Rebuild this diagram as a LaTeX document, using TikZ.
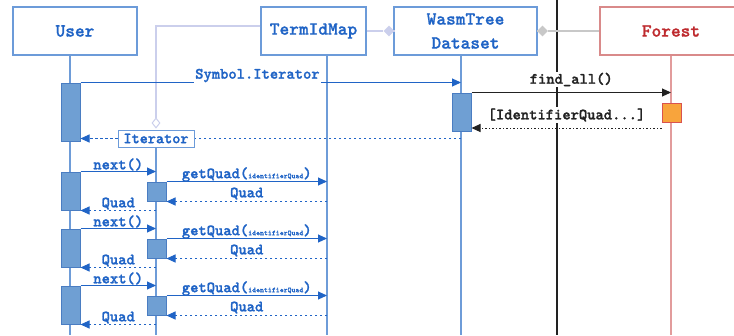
\documentclass[tikz,border=0pt]{standalone}
\usepackage{fontspec}
\newfontfamily\labfont{lmmonolt10-bold}[Extension=.otf, FakeBold=1.3]
\newfontfamily\titfont{lmmonolt10-bold}[Extension=.otf, FakeBold=1.0]
\usetikzlibrary{arrows.meta,shapes.geometric}
\definecolor{ublue}{HTML}{2064C6}
\definecolor{bborder}{HTML}{6C9BD9}
\definecolor{lifeb}{HTML}{6E9CD8}
\definecolor{actfill}{HTML}{6F9FD3}
\definecolor{actdraw}{HTML}{4A7DC2}
\definecolor{lav}{HTML}{CBCFEC}
\definecolor{greyc}{HTML}{C8C8C8}
\definecolor{fred}{HTML}{BE2A2E}
\definecolor{fborder}{HTML}{D98A8A}
\definecolor{flife}{HTML}{E29C9C}
\definecolor{orng}{HTML}{F8A43C}
\definecolor{ordraw}{HTML}{D9534F}
\definecolor{blk}{HTML}{222222}
\tikzset{
  actor/.style={draw=bborder, line width=1.1pt, fill=white, minimum height=48pt, inner sep=0pt,
    font=\titfont\fontsize{18.5}{24}\selectfont, text=ublue, align=center},
  forestbox/.style={draw=fborder, text=fred},
  actbox/.style={draw=actdraw, fill=actfill, line width=1pt, minimum width=19pt, inner sep=0pt},
  factbox/.style={draw=ordraw, fill=orng, line width=1pt, minimum width=19pt, minimum height=19pt, inner sep=0pt},
  lifeline/.style={draw=lifeb, line width=1.2pt},
  msg/.style={draw=ublue, line width=1pt, -{Triangle[length=9pt,width=8pt,fill=ublue]}},
  retmsg/.style={msg, dash pattern=on 2.5pt off 2.5pt},
  bmsg/.style={draw=blk, line width=1pt, -{Triangle[length=9pt,width=8pt,fill=blk]}},
  bret/.style={bmsg, dash pattern=on 1.5pt off 2pt},
  lbl/.style={font=\labfont\fontsize{15.8}{18}\selectfont, text=ublue, inner sep=1pt, yshift=7pt},
  blbl/.style={lbl, text=blk, fill=white, yshift=6pt},
}
\begin{document}
\begin{tikzpicture}[x=1pt,y=-1pt]
\useasboundingbox (0,0) rectangle (734,335);
% separator line
\coordinate (septop) at (557,0);
\coordinate (sepbot) at (557,335);
\draw[blk, line width=1.3pt] (septop) -- (sepbot);
% actors
\node[actor, minimum width=124pt] (user) at (75,31) {User};
\node[actor, minimum width=105pt] (tim) at (313.5,31) {TermIdMap};
\node[actor, minimum width=143pt] (wt) at (465.5,31) {WasmTree\\Dataset};
\node[actor, forestbox, minimum width=142pt] (forest) at (671,31) {Forest};
% associations between actors
\node[diamond, fill=lav, inner sep=0pt, minimum width=11pt, minimum height=11pt] (d1) at (389,31) {};
\draw[lav, line width=1.2pt] (tim.east) -- (d1.west);
\draw[lav, line width=1.2pt] (d1.east) -- (wt.west);
\node[diamond, fill=greyc, inner sep=0pt, minimum width=11pt, minimum height=11pt] (d2) at (542.5,31) {};
\draw[greyc, line width=1.2pt] (wt.east) -- (d2.west);
\draw[greyc, line width=1.2pt] (d2.east) -- (forest.west);
% lifeline ends
\coordinate (ul) at (70,335);
\coordinate (tl) at (327,335);
\coordinate (wl) at (461,335);
\coordinate (fl) at (671,335);
\coordinate (il) at (156,335);
\draw[lifeline] (ul |- user.south) -- (ul);
\draw[lifeline] (tl |- tim.south) -- (tl);
\draw[lifeline] (wl |- wt.south) -- (wl);
\draw[draw=flife, line width=1.4pt] (fl |- forest.south) -- (fl);
% Iterator object
\node[draw=bborder, line width=1pt, fill=white, inner sep=0pt, minimum width=76pt, minimum height=17pt,
  font=\labfont\fontsize{15.5}{16}\selectfont, text=ublue] (iter) at (156,138.5) {Iterator};
\node[diamond, draw=lav, fill=white, line width=1pt, inner sep=0pt, minimum width=8pt, minimum height=10pt, anchor=south] (idia) at ([yshift=1pt]iter.north) {};
\draw[lav, line width=1.2pt] ([yshift=5pt]tim.west) -| (idia.north);
\draw[lifeline] (iter.south) -- (il);
% activations
\node[actbox, minimum height=58pt] (ua0) at (70.5,112) {};
\node[actbox, minimum height=38pt] (wa) at (461.5,112) {};
\node[factbox] (fa) at (671.5,112.5) {};
% creation of the iterator
\draw[msg] (ua0.north east) -- (ua0.north east -| wl)
  node[lbl, fill=white, pos=0.465] {Symbol.Iterator};
\draw[bmsg] (wa.north east) -- (wa.north east -| fl)
  node[blbl, midway] {find\_all()};
\draw[bret] (fa.west |- 0,128) -- (wa.east |- 0,128)
  node[blbl, midway] {[IdentifierQuad...]};
\draw[retmsg, -] (wl |- iter.east) -- (iter.east);
\draw[retmsg] (iter.west) -- (ua0.east |- iter.west);
% iterations
\foreach \d/\i in {0/1,57/2,114/3} {
  \node[actbox, minimum height=38pt] (ua\i) at (70.5,191+\d) {};
  \node[actbox, minimum height=19pt] (ia\i) at (156.5,191.5+\d) {};
  \draw[msg] (ua\i.north east) -- (ua\i.north east -| il)
    node[lbl, midway] {next()};
  \draw[msg] (ia\i.north east) -- (ia\i.north east -| tl)
    node[lbl, midway] {getQuad({\fontsize{7.5}{8}\selectfont identifierQuad})};
  \draw[retmsg] (ia\i.south east -| tl) -- (ia\i.south east)
    node[lbl, midway, yshift=1pt] {Quad};
  \draw[retmsg] (ua\i.south east -| il) -- (ua\i.south east)
    node[lbl, midway] {Quad};
}
\end{tikzpicture}
\end{document}
